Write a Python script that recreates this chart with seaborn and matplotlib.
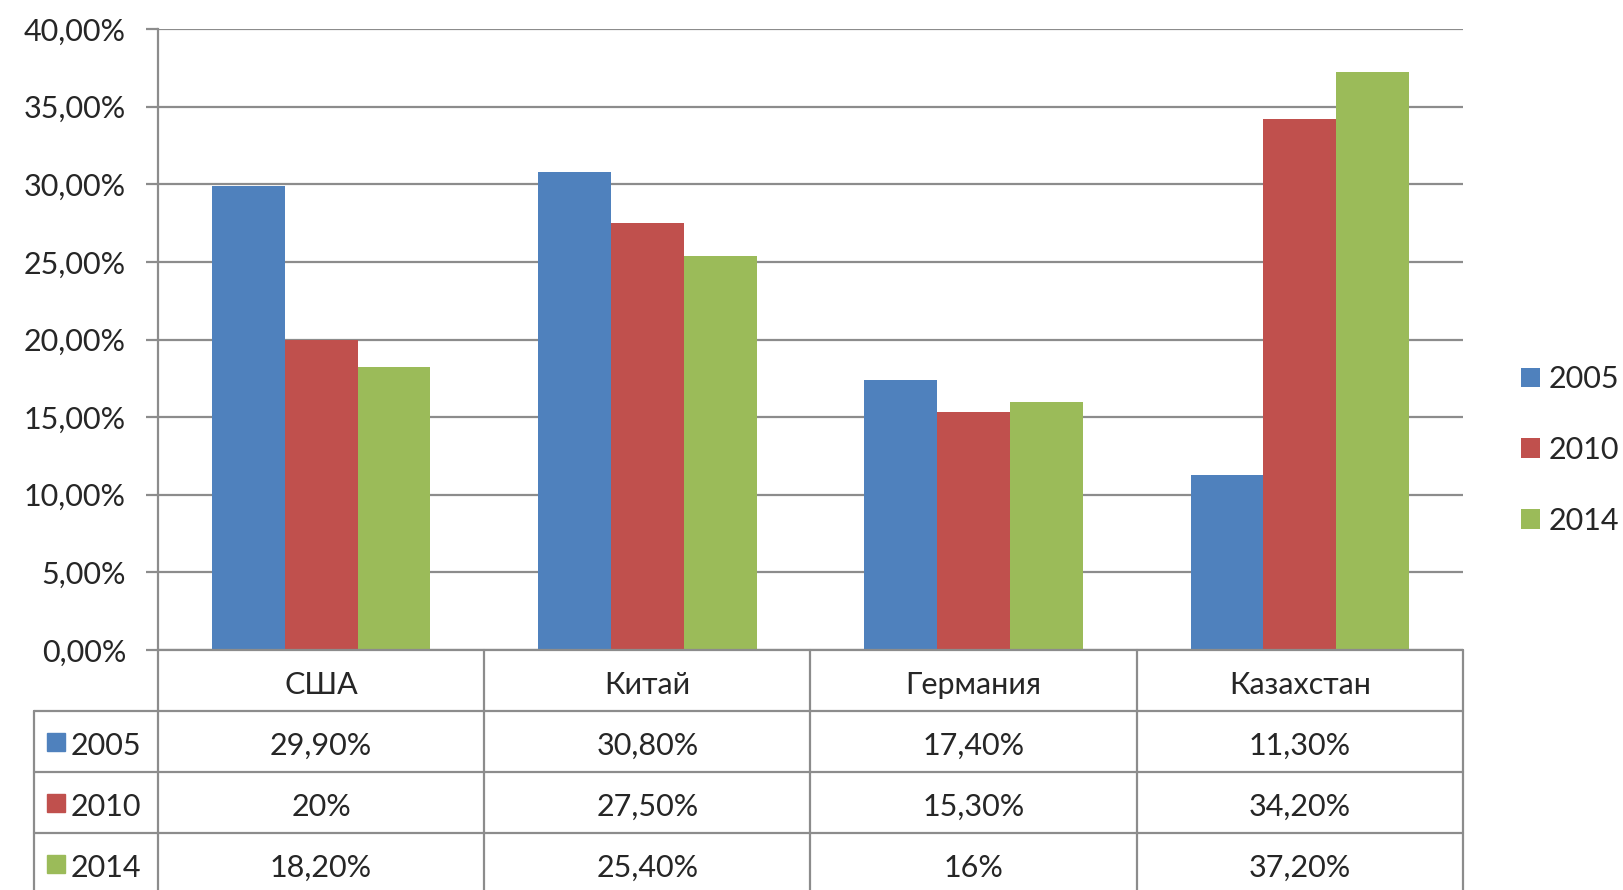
import matplotlib
matplotlib.use('Agg')
import matplotlib.pyplot as plt
import matplotlib.ticker as mticker
import seaborn as sns
import pandas as pd

countries = ['США', 'Китай', 'Германия', 'Казахстан']
years = ['2005', '2010', '2014']
share_2005 = [29.9, 30.8, 17.4, 11.3]
share_2010 = [20.0, 27.5, 15.3, 34.2]
share_2014 = [18.2, 25.4, 16.0, 37.2]
colors = ['#4F81BD', '#C0504D', '#9BBB59']

series = {'2005': share_2005, '2010': share_2010, '2014': share_2014}
df = pd.DataFrame([
    {'country': c, 'year': y, 'share': v}
    for y in years for c, v in zip(countries, series[y])
])


def fmt_pct(v):
    # excel style: 29,90% but 20%
    if float(v).is_integer():
        return f'{int(v)}%'
    return f'{v:.2f}'.replace('.', ',') + '%'


sns.set_style('white')
plt.rcParams['font.family'] = ['Lato', 'Noto Sans', 'DejaVu Sans']
FS = 22
TXT = '#262626'
GRID = '#8c8c8c'

W, H = 1624, 890
fig = plt.figure(figsize=(W / 100, H / 100), dpi=100)

# pixel layout of the plot area
x0, x1 = 158, 1463
y_top, y_zero = 29, 650
row_h = 61
ax = fig.add_axes([x0 / W, 1 - y_zero / H, (x1 - x0) / W, (y_zero - y_top) / H])

sns.barplot(data=df, x='country', y='share', hue='year', order=countries,
            hue_order=years, palette=colors, width=0.67, saturation=1,
            linewidth=0, ax=ax)
ax.set_xlim(-0.5, len(countries) - 0.5)
ax.set_ylim(0, 40)
ax.set_yticks(range(0, 41, 5))
ax.yaxis.set_major_formatter(mticker.FuncFormatter(
    lambda v, p: f'{v:.2f}'.replace('.', ',') + '%'))
ax.yaxis.grid(True, color=GRID, lw=1.6)
ax.set_axisbelow(True)
ax.set_xlabel('')
ax.set_ylabel('')
ax.set_xticks([])
for s in ['top', 'right', 'bottom']:
    ax.spines[s].set_visible(False)
ax.spines['left'].set_color(GRID)
ax.spines['left'].set_linewidth(1.6)
ax.tick_params(axis='y', length=9, width=1.6, color=GRID, pad=14,
               labelsize=FS, labelcolor=TXT, left=True)

# legend on the right
handles, labels = ax.get_legend_handles_labels()
ax.legend(handles, labels, loc='center left', bbox_to_anchor=(1.035, 0.322),
          frameon=False, fontsize=FS, labelcolor=TXT, handlelength=0.62,
          handleheight=0.62, handletextpad=0.3, labelspacing=1.4,
          borderaxespad=0)

# data table under the chart
tab = fig.add_axes([x0 / W, 1 - (y_zero + 4 * row_h) / H,
                    (x1 - x0) / W, 4 * row_h / H])
tab.set_xlim(-0.5, len(countries) - 0.5)
tab.set_ylim(4, 0)
tab.axis('off')
unit = (x1 - x0) / len(countries)  # px per category
left_edge = -0.5 - (x0 - 34) / unit

lk = dict(color=GRID, lw=1.6, clip_on=False)
tab.plot([-0.5, 3.5], [0, 0], **lk)
for r in [1, 2, 3]:
    tab.plot([left_edge, 3.5], [r, r], **lk)
for xb in [i - 0.5 for i in range(len(countries) + 1)]:
    tab.plot([xb, xb], [0, 4], **lk)
tab.plot([left_edge, left_edge], [1, 4], **lk)

for i, c in enumerate(countries):
    tab.text(i, 0.58, c, ha='center', va='center', fontsize=FS, color=TXT)
for r, y in enumerate(years):
    vals = series[y]
    for i, v in enumerate(vals):
        tab.text(i, r + 1.57, fmt_pct(v), ha='center', va='center',
                 fontsize=FS, color=TXT)
    sq_x = -0.5 - (x0 - 56) / unit
    tab.plot(sq_x, r + 1.5, marker='s', ms=13, color=colors[r],
             clip_on=False, ls='none')
    tab.text(-0.5 - (x0 - 71) / unit, r + 1.57, y, ha='left', va='center',
             fontsize=FS, color=TXT)

fig.savefig('out.png', dpi=100)
plt.close(fig)
